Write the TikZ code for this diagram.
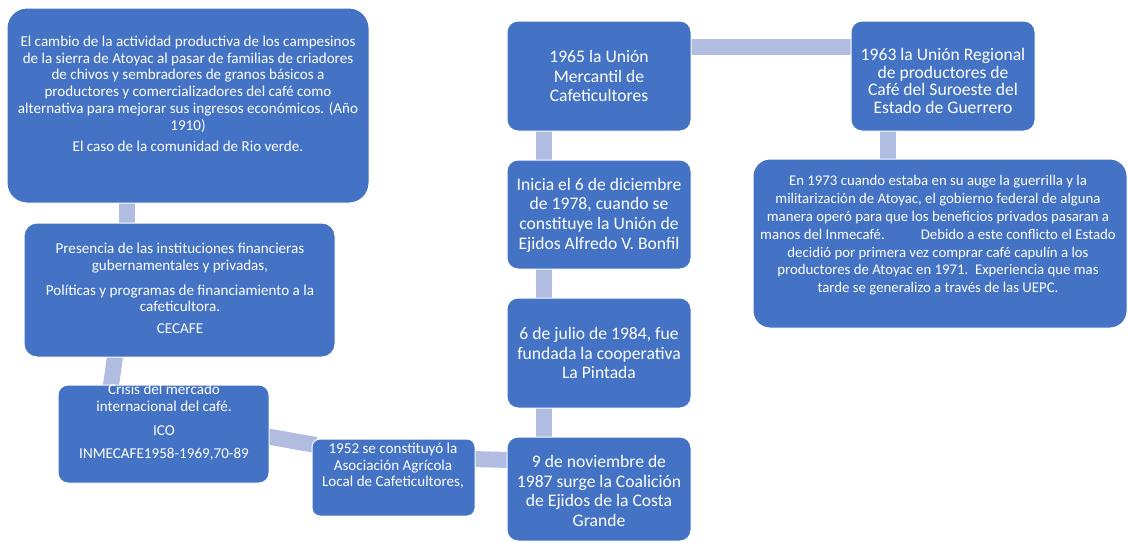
\documentclass[tikz,border=0pt]{standalone}
\usepackage{fontspec}
\setmainfont{Carlito}
\usetikzlibrary{calc,backgrounds}
\definecolor{boxblue}{RGB}{68,114,196}
\definecolor{connblue}{RGB}{176,188,224}
\tikzset{
  box/.style={draw=white, line width=1pt, fill=boxblue, inner sep=0pt, outer sep=0pt},
  txt/.style={text=white, align=center, inner sep=0pt},
  small/.style={font=\fontsize{15.1}{16.7}\selectfont},
  big/.style={font=\fontsize{17.6}{19.7}\selectfont},
  conn/.style={draw=connblue, line width=16pt, line cap=butt}
}
\begin{document}
\begin{tikzpicture}[x=1pt,y=-1pt]
\useasboundingbox (0,0) rectangle (1128,542);
% boxes
\node[box, rounded corners=20pt, minimum width=362pt, minimum height=195pt] (A) at (188,105.5) {};
\node[box, rounded corners=13pt, minimum width=311pt, minimum height=134pt] (B) at (179.5,290) {};
\node[box, rounded corners=10pt, minimum width=211pt, minimum height=98pt] (C) at (163.5,434) {};
\node[box, rounded corners=8pt, minimum width=163pt, minimum height=77pt] (D) at (393.5,477.5) {};
\node[box, rounded corners=11pt, minimum width=184pt, minimum height=104pt] (E) at (599,489) {};
\node[box, rounded corners=11pt, minimum width=184pt, minimum height=110pt] (F) at (599,353) {};
\node[box, rounded corners=11pt, minimum width=184pt, minimum height=109pt] (G) at (599,214.5) {};
\node[box, rounded corners=11pt, minimum width=184pt, minimum height=110pt] (H) at (599,76) {};
\node[box, rounded corners=11pt, minimum width=184pt, minimum height=110pt] (I) at (943,76) {};
\node[box, rounded corners=17pt, minimum width=374pt, minimum height=169pt] (J) at (940,243.5) {};
% texts
\node[txt, small] (tA) at (188,94) {El cambio de la actividad productiva de los campesinos\\
de la sierra de Atoyac al pasar de familias de criadores\\
de chivos y sembradores de granos básicos a\\
productores y comercializadores del café como\\
alternativa para mejorar sus ingresos económicos. (Año\\
1910)\\[5pt]
El caso de la comunidad de Rio verde.};
\node[txt, small] (tB) at (180,288.5) {Presencia de las instituciones financieras\\
gubernamentales y privadas,\\[8pt]
Políticas y programas de financiamiento a la\\
cafeticultora.\\[5pt]
CECAFE};
\node[txt, small] (tC) at (164,422.5) {Crisis del mercado\\
internacional del café.\\[7pt]
ICO\\[7pt]
INMECAFE1958-1969,70-89};
\node[txt, small] (tD) at (393,466) {1952 se constituyó la\\
Asociación Agrícola\\
Local de Cafeticultores,};
\node[txt, big] (tH) at (599,76) {1965 la Unión\\ Mercantil de\\ Cafeticultores};
\node[txt, big] (tG) at (599,215) {Inicia el 6 de diciembre\\ de 1978, cuando se\\ constituye la Unión de\\ Ejidos Alfredo V. Bonfil};
\node[txt, big] (tF) at (599,353) {6 de julio de 1984, fue\\ fundada la cooperativa\\ La Pintada};
\node[txt, big] (tE) at (599,491) {9 de noviembre de\\ 1987 surge la Coalición\\ de Ejidos de la Costa\\ Grande};
\node[txt, font=\fontsize{17.6}{17.4}\selectfont] (tI) at (943,81) {1963 la Unión Regional\\ de productores de\\ Café del Suroeste del\\ Estado de Guerrero};
\node[txt, font=\fontsize{14.8}{17.8}\selectfont] (tJ) at (938,235.5) {En 1973 cuando estaba en su auge la guerrilla y la\\
militarización de Atoyac, el gobierno federal de alguna\\
manera operó para que los beneficios privados pasaran a\\
manos del Inmecafé.\hspace*{36pt}Debido a este conflicto el Estado\\
decidió por primera vez comprar café capulín a los\\
productores de Atoyac en 1971.~~Experiencia que mas\\
tarde se generalizo a través de las UEPC.};
% connectors
\begin{pgfonlayer}{background}
\draw[conn] ($(A.south)+(-61,-4)$) -- ($(B.north)+(-52.5,4)$);
\draw[conn] ($(B.south)+(-64,-4)$) -- ($(C.north)+(-53,4)$);
\draw[conn] ($(C.east)+(-4,2)$) -- ($(D.west)+(4,-32.5)$);
\draw[conn] ($(D.east)+(-4,-18.5)$) -- ($(E.west)+(4,-29)$);
\draw[conn] ($(H.south)+(-55,-4)$) -- ($(G.north)+(-55,4)$);
\draw[conn] ($(G.south)+(-55,-4)$) -- ($(F.north)+(-55,4)$);
\draw[conn] ($(F.south)+(-55,-4)$) -- ($(E.north)+(-55,4)$);
\draw[conn] ($(H.east)+(-4,-29)$) -- ($(I.west)+(4,-29)$);
\draw[conn] ($(I.south)+(-55,-4)$) -- ($(J.north)+(-52,4)$);
\end{pgfonlayer}
\end{tikzpicture}
\end{document}
